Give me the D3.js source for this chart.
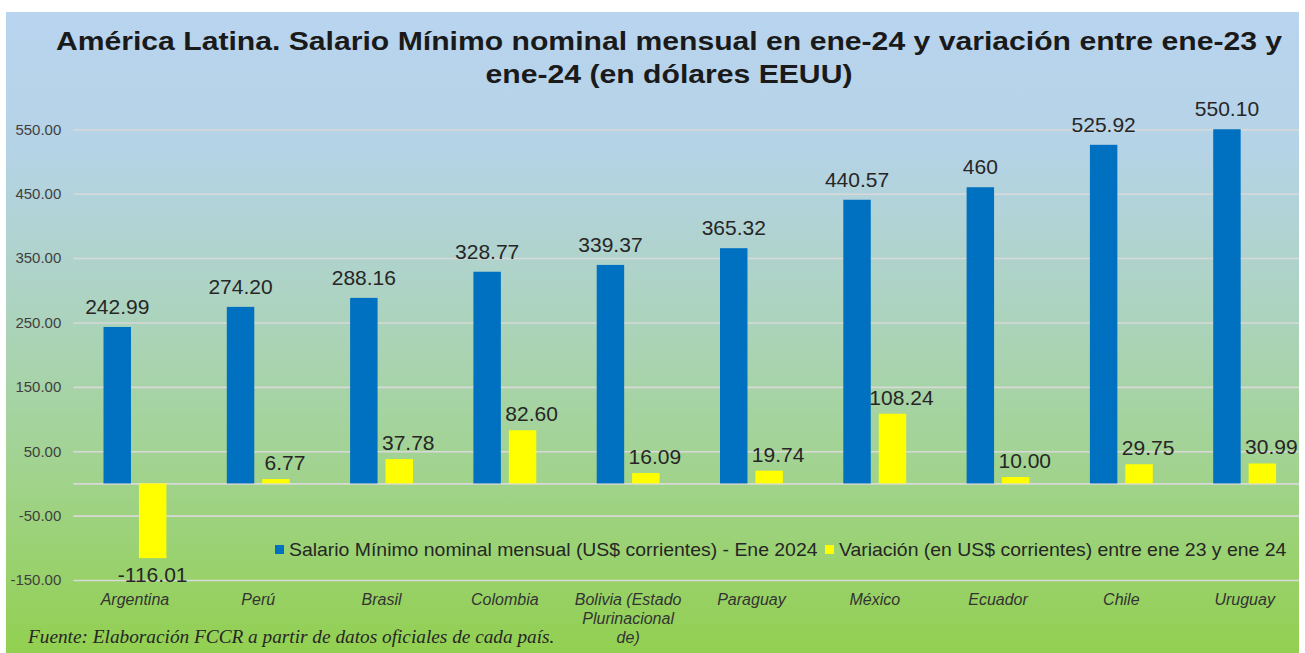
<!DOCTYPE html>
<html>
<head>
<meta charset="utf-8">
<script src="https://cdn.jsdelivr.net/npm/d3@7"></script>
<style>
  body { margin: 0; background: #fff; }
  svg { display: block; }
</style>
</head>
<body>
<div id="chart"></div>
<script>
// datos
const paises = ["Argentina", "Perú", "Brasil", "Colombia", "Bolivia (Estado Plurinacional de)",
  "Paraguay", "México", "Ecuador", "Chile", "Uruguay"];
const salario = [242.99, 274.20, 288.16, 328.77, 339.37, 365.32, 440.57, 460, 525.92, 550.10];
const salarioLabels = ["242.99", "274.20", "288.16", "328.77", "339.37", "365.32", "440.57", "460", "525.92", "550.10"];
const variacion = [-116.01, 6.77, 37.78, 82.60, 16.09, 19.74, 108.24, 10.00, 29.75, 30.99];
const yTicks = [-150, -50, 50, 150, 250, 350, 450, 550];
const titulo = ["América Latina. Salario Mínimo nominal mensual en ene-24 y variación entre ene-23 y",
  "ene-24 (en dólares EEUU)"];
const leyenda = ["Salario Mínimo nominal mensual (US$ corrientes) - Ene 2024",
  "Variación (en US$ corrientes) entre ene 23 y ene 24"];
const fuente = "Fuente: Elaboración FCCR a partir de datos oficiales de cada país.";

let w = 1305;
let h = 653;

let svg = d3.select("#chart")
  .append("svg")
  .attr("width", w)
  .attr("height", h);

// background gradient panel
let defs = svg.append("defs");
let grad = defs.append("linearGradient")
  .attr("id", "bg")
  .attr("gradientUnits", "userSpaceOnUse")
  .attr("x1", 0).attr("y1", 12)
  .attr("x2", 0).attr("y2", 653);
[["0%", "#b9d4ef"], ["22%", "#b5d3e6"], ["45%", "#add3c2"], ["70%", "#a2d392"], ["100%", "#92d050"]]
  .forEach(s => grad.append("stop").attr("offset", s[0]).attr("stop-color", s[1]));

defs.append("clipPath").attr("id", "panelClip")
  .append("rect").attr("x", 6).attr("y", 12).attr("width", 1293).attr("height", 641);

svg.append("rect")
  .attr("x", 6).attr("y", 12)
  .attr("width", 1293).attr("height", 641)
  .attr("fill", "url(#bg)");

let plot = svg.append("g").attr("clip-path", "url(#panelClip)");

// scales
const left = 73.3;
const step = 123.3;
let x0 = d3.scaleBand()
  .domain(paises)
  .range([left, left + step * paises.length])
  .paddingInner(0.49)
  .paddingOuter(0.245);

let x1 = d3.scaleBand()
  .domain(["salario", "variacion"])
  .range([0, x0.bandwidth()])
  .paddingInner(0.225);

let y = d3.scaleLinear()
  .domain([-150, 550])
  .range([580, 129.3]);

// gridlines
plot.append("g")
  .attr("transform", `translate(${left}, 0)`)
  .call(d3.axisLeft(y).tickValues(yTicks.concat([0])).tickSize(-1300).tickFormat(""))
  .call(g => g.select(".domain").remove())
  .call(g => g.selectAll("line").attr("stroke", "#d9d9d9").attr("stroke-width", 1.6));

// y labels
svg.append("g")
  .attr("transform", `translate(${left}, 0)`)
  .call(d3.axisLeft(y).tickValues(yTicks).tickSize(0).tickPadding(12).tickFormat(d => d.toFixed(2)))
  .call(g => g.select(".domain").remove())
  .call(g => g.selectAll("text")
    .attr("font-family", "Liberation Sans, Arial, sans-serif")
    .attr("font-size", 15)
    .attr("fill", "#404040"));

// bars
let groups = plot.selectAll("g.pais")
  .data(paises)
  .join("g")
  .attr("class", "pais")
  .attr("transform", d => `translate(${x0(d)}, 0)`);

groups.append("rect")
  .attr("x", x1("salario"))
  .attr("width", x1.bandwidth())
  .attr("y", (d, i) => y(salario[i]))
  .attr("height", (d, i) => y(0) - y(salario[i]))
  .attr("fill", "#0070c0");

groups.append("rect")
  .attr("x", x1("variacion"))
  .attr("width", x1.bandwidth())
  .attr("y", (d, i) => y(Math.max(0, variacion[i])))
  .attr("height", (d, i) => Math.abs(y(variacion[i]) - y(0)))
  .attr("fill", "#ffff00");

// value labels
const labelFont = "Liberation Sans, Arial, sans-serif";
groups.append("text")
  .attr("x", x1("salario") + x1.bandwidth() / 2)
  .attr("y", (d, i) => y(salario[i]) - 13)
  .attr("text-anchor", "middle")
  .attr("font-family", labelFont)
  .attr("font-size", 21)
  .attr("fill", "#262626")
  .text((d, i) => salarioLabels[i]);

groups.append("text")
  .attr("x", (d, i) => x1("variacion") + x1.bandwidth() / 2 + (variacion[i] < 0 ? 0 : 9))
  .attr("y", (d, i) => variacion[i] < 0 ? y(variacion[i]) + 24 : y(variacion[i]) - 9)
  .attr("text-anchor", "middle")
  .attr("font-family", labelFont)
  .attr("font-size", 21)
  .attr("fill", "#262626")
  .text((d, i) => variacion[i].toFixed(2).replace("\u2212", "-"));

// x labels
let xAxis = svg.append("g")
  .attr("transform", "translate(0, 580)")
  .call(d3.axisBottom(x0).tickSize(0).tickPadding(14))
  .call(g => g.select(".domain").remove());

xAxis.selectAll("text")
  .attr("font-family", labelFont)
  .attr("font-style", "italic")
  .attr("font-size", 16)
  .attr("fill", "#333")
  .call(wrap, 115);

function wrap(texts, width) {
  texts.each(function () {
    let text = d3.select(this);
    let words = text.text().split(/\s+/);
    let dy = text.attr("dy");
    let line = [];
    text.text(null);
    let tspan = text.append("tspan").attr("x", 0).attr("dy", dy);
    words.forEach(word => {
      line.push(word);
      tspan.text(line.join(" "));
      if (tspan.node().getComputedTextLength() > width && line.length > 1) {
        line.pop();
        tspan.text(line.join(" "));
        line = [word];
        tspan = text.append("tspan").attr("x", 0).attr("dy", 19).text(word);
      }
    });
  });
}

// legend
let legend = svg.append("g")
  .selectAll("g")
  .data(leyenda)
  .join("g")
  .attr("transform", (d, i) => `translate(${[275, 825][i]}, 545)`);

legend.append("rect")
  .attr("width", 9)
  .attr("height", 9)
  .attr("fill", (d, i) => ["#0070c0", "#ffff00"][i]);

legend.append("text")
  .attr("transform", "translate(14, 11) scale(1.11, 1)")
  .attr("font-family", labelFont)
  .attr("font-size", 17.5)
  .attr("fill", "#262626")
  .text(d => d);

// title
svg.append("g")
  .selectAll("text")
  .data(titulo)
  .join("text")
  .attr("transform", (d, i) => `translate(669, ${50 + i * 33}) scale(1.16, 1)`)
  .attr("text-anchor", "middle")
  .attr("font-family", labelFont)
  .attr("font-weight", "bold")
  .attr("font-size", 26)
  .attr("fill", "#1a1a1a")
  .text(d => d);

// source
svg.append("text")
  .attr("x", 28)
  .attr("y", 643)
  .attr("font-family", "Liberation Serif, Times New Roman, serif")
  .attr("font-style", "italic")
  .attr("font-size", 19.3)
  .attr("fill", "#262626")
  .text(fuente);
</script>
</body>
</html>
